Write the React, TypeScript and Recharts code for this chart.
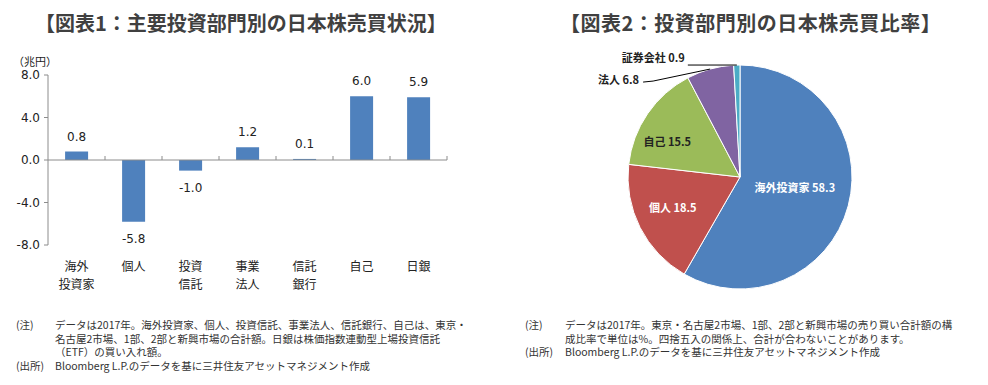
import { Bar, BarChart, Cell, LabelList, Pie, PieChart, ReferenceLine, XAxis, YAxis } from "recharts";

// 図表1: 主要投資部門別の日本株売買状況 (兆円)
const categories = ["海外\n投資家", "個人", "投資\n信託", "事業\n法人", "信託\n銀行", "自己", "日銀"];
const netValues = [0.8, -5.8, -1.0, 1.2, 0.1, 6.0, 5.9];
const yTicks = [-8, -4, 0, 4, 8];

// 図表2: 投資部門別の日本株売買比率 (%)
const pieNames = ["海外投資家", "個人", "自己", "法人", "証券会社"];
const pieShares = [58.3, 18.5, 15.5, 6.8, 0.9];
const pieColors = ["#4F81BD", "#C0504D", "#9BBB59", "#8064A2", "#4BACC6"];

const JP = '"Noto Sans CJK JP", "Noto Sans", sans-serif';
const NUM = '"DejaVu Sans", Verdana, sans-serif';
const RADIAN = Math.PI / 180;

const barData = categories.map((name, i) => ({ name, value: netValues[i] }));
const pieData = pieNames.map((name, i) => ({ name, value: pieShares[i] }));

function CategoryTick({ x, y, payload }: any) {
  const lines = String(payload.value).split("\n");
  return (
    <text x={x} y={y} textAnchor="middle" fontFamily={JP} fontSize={12} fill="#222">
      {lines.map((line, i) => (
        <tspan key={i} x={x} dy={i === 0 ? 18 : 18}>
          {line}
        </tspan>
      ))}
    </text>
  );
}

// zero line with small category-boundary ticks
function ZeroAxis(props: any) {
  const { x1, x2, y1 } = props;
  if (x1 == null) return null;
  const step = (x2 - x1) / categories.length;
  let d = `M${x1},${y1}H${x2}`;
  for (let i = 1; i <= categories.length; i++) d += `M${x1 + step * i},${y1}v-4`;
  return <path d={d} stroke="#8c8c8c" strokeWidth={1} fill="none" />;
}

function ValueLabel(props: any) {
  const { x, y, width, height, value } = props;
  const top = Math.min(y, y + height);
  const bottom = Math.max(y, y + height);
  const ly = value >= 0 ? top - 11 : bottom + 21;
  return (
    <text x={x + width / 2} y={ly} textAnchor="middle" fontFamily={NUM} fontSize={12} fill="#222">
      {Number(value).toFixed(1)}
    </text>
  );
}

// label placement per slice, in units of the outer radius from the centre
const insideLabel: Record<number, { fx: number; fy: number; color: string }> = {
  0: { fx: 0.49, fy: 0.09, color: "#fff" },
  1: { fx: -0.6, fy: 0.27, color: "#fff" },
  2: { fx: -0.65, fy: -0.32, color: "#222" },
};
// outside labels: text end offset and leader elbow, relative to the rim point
const outsideLabel: Record<number, { tx: number; ty: number; pts: number[][] }> = {
  3: { tx: -71, ty: 10, pts: [[-57, 12], [-67, 13]] },
  4: { tx: -52, ty: -8.5, pts: [[-49, 0]] },
};

function PieLabel(props: any) {
  const { cx, cy, midAngle, outerRadius, index, name, value } = props;
  const text = `${name} ${Number(value).toFixed(1)}`;
  if (insideLabel[index]) {
    const { fx, fy, color } = insideLabel[index];
    return (
      <text
        x={cx + outerRadius * fx}
        y={cy + outerRadius * fy}
        textAnchor="middle"
        dominantBaseline="central"
        fontFamily={JP}
        fontSize={11}
        fontWeight={700}
        fill={color}
      >
        {text}
      </text>
    );
  }
  const { tx, ty, pts } = outsideLabel[index];
  const ex = cx + outerRadius * Math.cos(-midAngle * RADIAN);
  const ey = cy + outerRadius * Math.sin(-midAngle * RADIAN);
  const points = [[0, 0], ...pts].map(([dx, dy]) => `${ex + dx},${ey + dy}`).join(" ");
  return (
    <g>
      <polyline points={points} stroke="#000" strokeWidth={1} fill="none" />
      <text x={ex + tx} y={ey + ty} textAnchor="end" dominantBaseline="central" fontFamily={JP} fontSize={11} fontWeight={700} fill="#222">
        {text}
      </text>
    </g>
  );
}

const noteStyle: React.CSSProperties = {
  position: "absolute",
  fontFamily: JP,
  fontSize: 10.5,
  lineHeight: "13.5px",
  color: "#333",
  whiteSpace: "nowrap",
};

const titleStyle: React.CSSProperties = {
  position: "absolute",
  top: 8,
  fontFamily: JP,
  fontSize: 20,
  fontWeight: 700,
  color: "#404040",
  whiteSpace: "nowrap",
};

export default function App() {
  return (
    <div style={{ position: "absolute", left: 0, top: 0, width: 988, height: 385, background: "#fff", overflow: "hidden" }}>
      <div style={{ ...titleStyle, left: 35 }}>【図表1：主要投資部門別の日本株売買状況】</div>
      <div style={{ ...titleStyle, left: 560, letterSpacing: 0.5 }}>【図表2：投資部門別の日本株売買比率】</div>

      <div style={{ position: "absolute", left: 13, top: 53, fontFamily: JP, fontSize: 11, color: "#222" }}>（兆円）</div>

      <div style={{ position: "absolute", left: 0, top: 40 }}>
        <BarChart width={460} height={260} data={barData} margin={{ top: 35, right: 13, left: 0, bottom: 0 }} barCategoryGap="30%">
          <XAxis dataKey="name" axisLine={false} tickLine={false} height={55} interval={0} tick={<CategoryTick />} />
          <YAxis
            domain={[-8, 8]}
            ticks={yTicks}
            width={48}
            stroke="#8c8c8c"
            tickSize={4}
            tickMargin={4}
            tickFormatter={(v: number) => v.toFixed(1)}
            tick={{ fill: "#222", fontFamily: NUM, fontSize: 12 }}
          />
          <ReferenceLine y={0} shape={<ZeroAxis />} />
          <Bar dataKey="value" fill="#4F81BD" isAnimationActive={false}>
            <LabelList dataKey="value" content={<ValueLabel />} />
          </Bar>
        </BarChart>
      </div>

      <div style={{ position: "absolute", left: 560, top: 40 }}>
        <PieChart width={330} height={260} margin={{ top: 0, right: 0, bottom: 0, left: 0 }}>
          <Pie
            data={pieData}
            dataKey="value"
            nameKey="name"
            cx={180}
            cy={137}
            outerRadius={112}
            startAngle={90}
            endAngle={-270}
            stroke="#fff"
            strokeWidth={1}
            label={PieLabel}
            labelLine={false}
            isAnimationActive={false}
          >
            {pieData.map((d, i) => (
              <Cell key={d.name} fill={pieColors[i]} />
            ))}
          </Pie>
        </PieChart>
      </div>

      <div style={{ ...noteStyle, left: 16, top: 318 }}>
        <div>(注)</div>
        <div style={{ height: 27 }} />
        <div>(出所)</div>
      </div>
      <div style={{ ...noteStyle, left: 55, top: 318 }}>
        <div>データは2017年。海外投資家、個人、投資信託、事業法人、信託銀行、自己は、東京・</div>
        <div>名古屋2市場、1部、2部と新興市場の合計額。日銀は株価指数連動型上場投資信託</div>
        <div>（ETF）の買い入れ額。</div>
        <div>Bloomberg L.P.のデータを基に三井住友アセットマネジメント作成</div>
      </div>

      <div style={{ ...noteStyle, left: 525, top: 318 }}>
        <div>(注)</div>
        <div style={{ height: 13.5 }} />
        <div>(出所)</div>
      </div>
      <div style={{ ...noteStyle, left: 565, top: 318 }}>
        <div>データは2017年。東京・名古屋2市場、1部、2部と新興市場の売り買い合計額の構</div>
        <div>成比率で単位は%。四捨五入の関係上、合計が合わないことがあります。</div>
        <div>Bloomberg L.P.のデータを基に三井住友アセットマネジメント作成</div>
      </div>
    </div>
  );
}
